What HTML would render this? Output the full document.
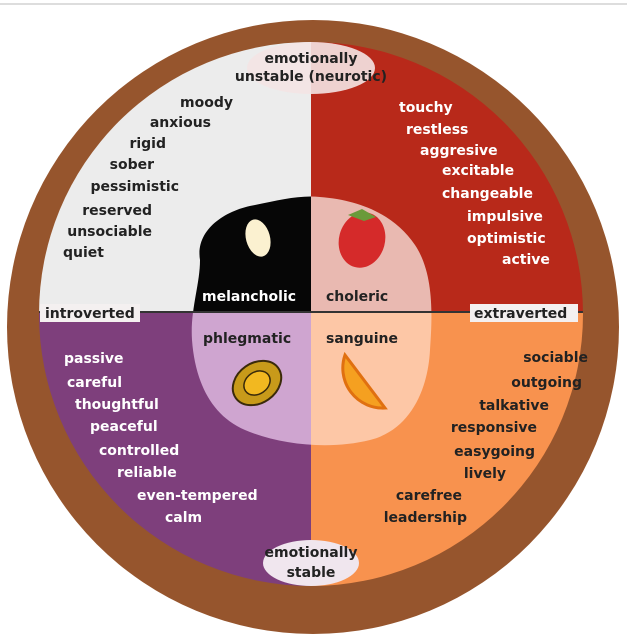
<!DOCTYPE html>
<html><head><meta charset="utf-8"><style>
html,body{margin:0;padding:0;background:#fff;width:627px;height:644px;overflow:hidden}
text{font-family:"DejaVu Sans","Liberation Sans",sans-serif;font-weight:bold;font-size:14px}
</style></head><body>
<svg width="627" height="644" viewBox="0 0 627 644" xmlns="http://www.w3.org/2000/svg">
<rect x="0" y="0" width="627" height="644" fill="#fff"/>
<line x1="0" y1="4" x2="627" y2="4" stroke="#ddd" stroke-width="2"/>
<ellipse cx="313" cy="327" rx="306" ry="307" fill="#96552d"/>
<defs><clipPath id="c"><circle cx="311" cy="314" r="272"/></clipPath>
<clipPath id="b"><path d="M200,260 C195,230 225,210 255,205 C280,200 300,195 320,197 C360,200 395,215 415,245 C435,275 432,320 430,350 C428,390 410,430 370,440 C330,450 280,445 245,430 C210,415 195,380 192,340 C190,310 200,285 200,260Z"/></clipPath></defs>
<g clip-path="url(#c)">
<rect x="0" y="0" width="311" height="312" fill="#ececec"/>
<rect x="311" y="0" width="320" height="312" fill="#b8291a"/>
<rect x="0" y="312" width="311" height="340" fill="#7e3f7c"/>
<rect x="311" y="312" width="320" height="340" fill="#f8924e"/>
<g clip-path="url(#b)">
<rect x="0" y="0" width="311" height="312" fill="#060606"/>
<rect x="311" y="0" width="320" height="312" fill="#e9b9b1"/>
<rect x="0" y="312" width="311" height="340" fill="#cfa5d0"/>
<rect x="311" y="312" width="320" height="340" fill="#fdc7a6"/>
</g>
<line x1="0" y1="312" x2="627" y2="312" stroke="#333" stroke-width="2"/>
</g>
<ellipse cx="311" cy="68" rx="64" ry="26" fill="#f4e4e4" opacity="0.9"/>
<ellipse cx="311" cy="563" rx="48" ry="23" fill="#f0e6ee"/>
<rect x="40" y="304" width="100" height="18" fill="#f4f0f0"/>
<rect x="470" y="304" width="108" height="18" fill="#f4f0f0"/>
<ellipse cx="258" cy="238" rx="12" ry="19" transform="rotate(-15 258 238)" fill="#fbf1d0"/>
<ellipse cx="362" cy="240" rx="23" ry="28" transform="rotate(15 362 240)" fill="#d52a2a"/>
<path d="M348,215 l14,-6 l14,8 l-12,4z" fill="#6a9a3a"/>
<ellipse cx="257" cy="383" rx="26" ry="20" transform="rotate(-35 257 383)" fill="#c89a1a" stroke="#3a2a0a" stroke-width="2"/>
<ellipse cx="257" cy="383" rx="14" ry="11" transform="rotate(-35 257 383)" fill="#f2b820" stroke="#3a2a0a" stroke-width="1.5"/>
<path d="M345,355 A40,40 0 0 0 385,408 Z" fill="#f5a020" stroke="#e07010" stroke-width="3"/>
<g fill="#222">
<text x="311" y="63" text-anchor="middle">emotionally</text>
<text x="311" y="81" text-anchor="middle">unstable (neurotic)</text>
<text x="311" y="557" text-anchor="middle">emotionally</text>
<text x="311" y="577" text-anchor="middle">stable</text>
<text x="45" y="318">introverted</text>
<text x="474" y="318">extraverted</text>
<text x="326" y="301">choleric</text>
<text x="203" y="343">phlegmatic</text>
<text x="326" y="343">sanguine</text>
<text x="233" y="107" text-anchor="end">moody</text>
<text x="211" y="127" text-anchor="end">anxious</text>
<text x="166" y="148" text-anchor="end">rigid</text>
<text x="154" y="169" text-anchor="end">sober</text>
<text x="179" y="191" text-anchor="end">pessimistic</text>
<text x="152" y="215" text-anchor="end">reserved</text>
<text x="152" y="236" text-anchor="end">unsociable</text>
<text x="104" y="257" text-anchor="end">quiet</text>
<text x="588" y="362" text-anchor="end">sociable</text>
<text x="582" y="387" text-anchor="end">outgoing</text>
<text x="549" y="410" text-anchor="end">talkative</text>
<text x="537" y="432" text-anchor="end">responsive</text>
<text x="535" y="456" text-anchor="end">easygoing</text>
<text x="506" y="478" text-anchor="end">lively</text>
<text x="462" y="500" text-anchor="end">carefree</text>
<text x="467" y="522" text-anchor="end">leadership</text>
</g>
<g fill="#fff">
<text x="202" y="301">melancholic</text>
<text x="399" y="112">touchy</text>
<text x="406" y="134">restless</text>
<text x="420" y="155">aggresive</text>
<text x="442" y="175">excitable</text>
<text x="442" y="198">changeable</text>
<text x="467" y="221">impulsive</text>
<text x="467" y="243">optimistic</text>
<text x="502" y="264">active</text>
<text x="64" y="363">passive</text>
<text x="67" y="387">careful</text>
<text x="75" y="409">thoughtful</text>
<text x="90" y="431">peaceful</text>
<text x="99" y="455">controlled</text>
<text x="117" y="477">reliable</text>
<text x="137" y="500">even-tempered</text>
<text x="165" y="522">calm</text>
</g>
</svg>
</body></html>
